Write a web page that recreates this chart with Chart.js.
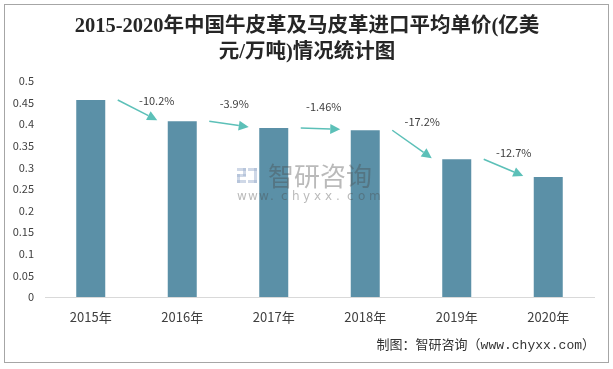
<!DOCTYPE html>
<html>
<head>
<meta charset="utf-8">
<script src="https://cdn.jsdelivr.net/npm/chart.js@4/dist/chart.umd.min.js"></script>
<style>
html,body{margin:0;padding:0;background:#fff;}
#wrap{position:relative;width:613px;height:369px;}
canvas{display:block;}
</style>
</head>
<body>
<div id="wrap"><canvas id="c" width="613" height="369"></canvas></div>
<script>
// ---- data ----
const categories = ['2015年', '2016年', '2017年', '2018年', '2019年', '2020年'];
const values = [0.456, 0.407, 0.391, 0.386, 0.319, 0.278];
const changeLabels = ['-10.2%', '-3.9%', '-1.46%', '-17.2%', '-12.7%'];
const yTickValues = [0, 0.05, 0.1, 0.15, 0.2, 0.25, 0.3, 0.35, 0.4, 0.45, 0.5];
const titleLines = ['2015-2020年中国牛皮革及马皮革进口平均单价(亿美', '元/万吨)情况统计图'];
const sourceText = '制图：智研咨询（www.chyxx.com）';

// ---- layout / style ----
const labelOffsets = [[39, 1], [25, -17], [23, -21], [30, -8], [30, -6]];
const BAR = '#5b90a7';
const ARROW = '#5cc0b8';

const decor = {
  id: 'decor',
  beforeDraw(chart) {
    const ctx = chart.ctx;
    ctx.save();
    ctx.fillStyle = '#fff';
    ctx.fillRect(0, 0, chart.width, chart.height);
    ctx.strokeStyle = '#a6a6a6';
    ctx.lineWidth = 1;
    ctx.strokeRect(4.5, 4.5, 604, 358);
    // title
    ctx.fillStyle = '#262626';
    ctx.textAlign = 'center';
    ctx.textBaseline = 'middle';
    ctx.font = '600 20.5px "Liberation Serif", "Noto Sans CJK SC", serif';
    ctx.fillText(titleLines[0], 307, 27);
    ctx.fillText(titleLines[1], 307, 53);
    // source
    ctx.font = '13px "Liberation Mono", "Noto Sans CJK SC", monospace';
    ctx.fillStyle = '#333';
    ctx.textAlign = 'right';
    ctx.fillText(sourceText, 595, 346);
    ctx.restore();
  },
  afterDatasetsDraw(chart) {
    const ctx = chart.ctx;
    const xs = chart.scales.x, ys = chart.scales.y;
    ctx.save();
    // watermark
    ctx.globalAlpha = 0.5;
    ctx.fillStyle = '#9fb2d0';
    const lx = 237, ly = 168;
    ctx.fillRect(lx, ly, 9, 3);
    ctx.fillRect(lx + 6, ly, 3, 8);
    ctx.fillRect(lx, ly + 6, 9, 3);
    ctx.fillRect(lx, ly + 6, 3, 9);
    ctx.fillRect(lx, ly + 12, 9, 3);
    ctx.fillRect(lx + 11, ly, 9, 3);
    ctx.fillRect(lx + 17, ly, 3, 15);
    ctx.fillRect(lx + 11, ly + 12, 9, 3);
    ctx.globalAlpha = 0.38;
    ctx.fillStyle = '#4a4a4a';
    ctx.font = '26px "Noto Sans CJK SC", sans-serif';
    ctx.textAlign = 'left';
    ctx.textBaseline = 'middle';
    ctx.fillText('智研咨询', 268, 176);
    ctx.font = '12px "DejaVu Sans", sans-serif';
    const w = 'www.chyxx.com';
    let x = 237;
    for (const ch of w) { ctx.fillText(ch, x, 197); x += 11; }
    ctx.globalAlpha = 1;

    // arrows and change labels
    ctx.strokeStyle = ARROW;
    ctx.fillStyle = ARROW;
    ctx.lineWidth = 1.5;
    for (let i = 0; i < changeLabels.length; i++) {
      const x1 = xs.getPixelForValue(i) + 27;
      const y1 = ys.getPixelForValue(values[i]);
      const x2 = xs.getPixelForValue(i + 1) - 25;
      const y2 = ys.getPixelForValue(values[i + 1]) - 1;
      const ang = Math.atan2(y2 - y1, x2 - x1);
      const hl = 10, hw = 5;
      const bx = x2 - hl * Math.cos(ang), by = y2 - hl * Math.sin(ang);
      ctx.beginPath();
      ctx.moveTo(x1, y1);
      ctx.lineTo(bx, by);
      ctx.stroke();
      ctx.beginPath();
      ctx.moveTo(x2, y2);
      ctx.lineTo(bx + hw * Math.sin(ang), by - hw * Math.cos(ang));
      ctx.lineTo(bx - hw * Math.sin(ang), by + hw * Math.cos(ang));
      ctx.closePath();
      ctx.fill();
      ctx.save();
      ctx.fillStyle = '#404040';
      ctx.font = '11px "Noto Sans CJK SC", sans-serif';
      ctx.textAlign = 'center';
      ctx.textBaseline = 'middle';
      ctx.fillText(changeLabels[i], x1 + labelOffsets[i][0], y1 + labelOffsets[i][1]);
      ctx.restore();
    }
    ctx.restore();
  }
};

new Chart(document.getElementById('c'), {
  type: 'bar',
  data: {
    labels: categories,
    datasets: [{
      data: values,
      backgroundColor: BAR,
      borderWidth: 0,
      categoryPercentage: 1,
      barPercentage: 0.317
    }]
  },
  options: {
    responsive: false,
    animation: false,
    devicePixelRatio: 1,
    layout: { padding: { left: 0, right: 19, top: 81, bottom: 42 } },
    plugins: { legend: { display: false }, title: { display: false }, tooltip: { enabled: false } },
    scales: {
      x: {
        grid: { display: false, drawTicks: false },
        border: { display: true, color: '#d9d9d9', width: 1 },
        ticks: { color: '#404040', font: { size: 13, family: '"Noto Sans CJK SC", sans-serif' }, padding: 12, maxRotation: 0 },
        afterFit(s) { s.height = 30; }
      },
      y: {
        min: 0, max: 0.5,
        afterBuildTicks(s) { s.ticks = yTickValues.map(v => ({ value: v })); },
        grid: { display: false, drawTicks: false },
        border: { display: false },
        ticks: {
          color: '#404040',
          font: { size: 11, family: '"Noto Sans CJK SC", sans-serif' },
          padding: 11,
          callback: v => String(Number(v.toFixed(2)))
        },
        afterFit(s) { s.width = 45; }
      }
    }
  },
  plugins: [decor]
});
</script>
</body>
</html>
